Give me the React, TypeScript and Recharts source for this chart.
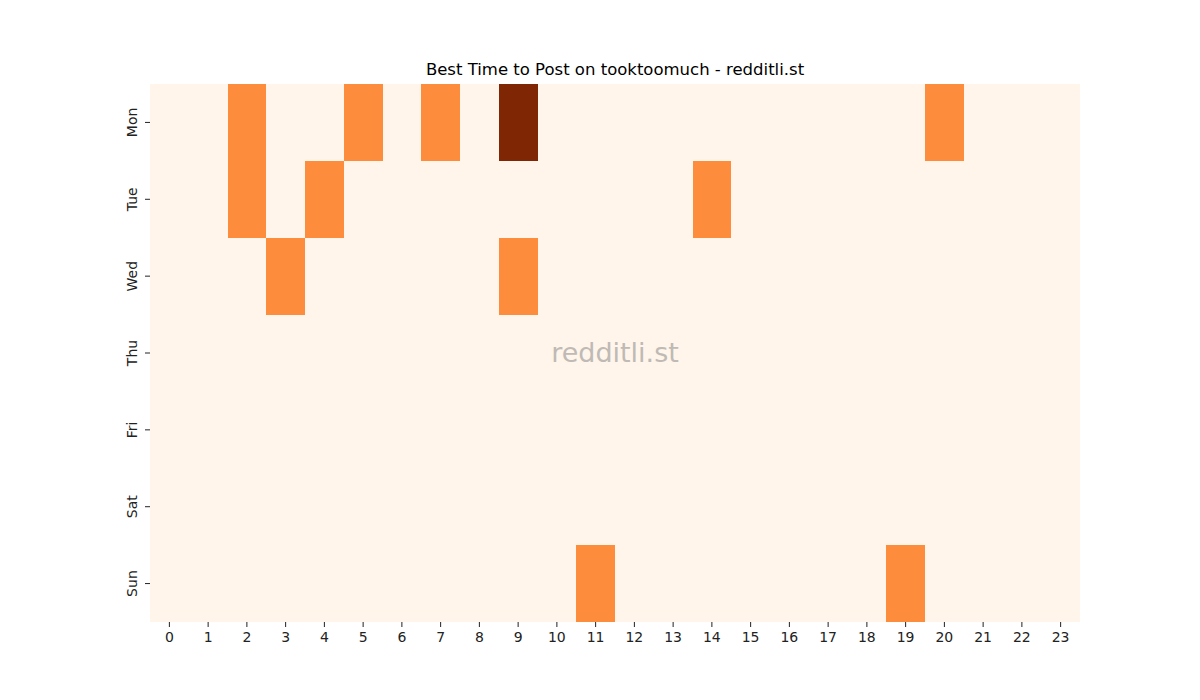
import React from 'react';
import { ScatterChart, Scatter, XAxis, YAxis } from 'recharts';

const days = ['Mon', 'Tue', 'Wed', 'Thu', 'Fri', 'Sat', 'Sun'];
const hours = [0, 1, 2, 3, 4, 5, 6, 7, 8, 9, 10, 11, 12, 13, 14, 15, 16, 17, 18, 19, 20, 21, 22, 23];

// post counts per day, one entry per hour
const mon = [0, 0, 1, 0, 0, 1, 0, 1, 0, 2, 0, 0, 0, 0, 0, 0, 0, 0, 0, 0, 1, 0, 0, 0];
const tue = [0, 0, 1, 0, 1, 0, 0, 0, 0, 0, 0, 0, 0, 0, 1, 0, 0, 0, 0, 0, 0, 0, 0, 0];
const wed = [0, 0, 0, 1, 0, 0, 0, 0, 0, 1, 0, 0, 0, 0, 0, 0, 0, 0, 0, 0, 0, 0, 0, 0];
const thu = [0, 0, 0, 0, 0, 0, 0, 0, 0, 0, 0, 0, 0, 0, 0, 0, 0, 0, 0, 0, 0, 0, 0, 0];
const fri = [0, 0, 0, 0, 0, 0, 0, 0, 0, 0, 0, 0, 0, 0, 0, 0, 0, 0, 0, 0, 0, 0, 0, 0];
const sat = [0, 0, 0, 0, 0, 0, 0, 0, 0, 0, 0, 0, 0, 0, 0, 0, 0, 0, 0, 0, 0, 0, 0, 0];
const sun = [0, 0, 0, 0, 0, 0, 0, 0, 0, 0, 0, 1, 0, 0, 0, 0, 0, 0, 0, 1, 0, 0, 0, 0];

const counts = [mon, tue, wed, thu, fri, sat, sun];

// Oranges colormap, low / mid / high
const colors = ['#fff5eb', '#fd8d3c', '#7f2704'];

const WIDTH = 1200;
const HEIGHT = 700;
const margin = { top: 84, right: 120, bottom: 48, left: 100 };
const Y_AXIS_W = 50;
const X_AXIS_H = 30;
const plotW = WIDTH - margin.left - margin.right - Y_AXIS_W;
const plotH = HEIGHT - margin.top - margin.bottom - X_AXIS_H;
const cellW = plotW / hours.length;
const cellH = plotH / days.length;

const cells = counts.flatMap((row, d) =>
  row.map((v, h) => ({ hour: hours[h], day: d, value: v }))
);

const font = '"DejaVu Sans", sans-serif';

const Cell = (props: any) => {
  const { cx, cy, payload } = props;
  if (cx == null || cy == null) return null;
  return (
    <rect
      x={cx - cellW / 2}
      y={cy - cellH / 2}
      width={cellW}
      height={cellH}
      fill={colors[payload.value]}
      shapeRendering="crispEdges"
    />
  );
};

const DayTick = (props: any) => {
  const { x, y, payload } = props;
  return (
    <g transform={`translate(${x - 9},${y})`}>
      <text
        transform="rotate(-90)"
        textAnchor="middle"
        dy="0.35em"
        fontSize={14}
        fontFamily={font}
        fill="#222"
      >
        {days[payload.value]}
      </text>
    </g>
  );
};

export default function App() {
  return (
    <div style={{ position: 'absolute', left: 0, top: 0, width: WIDTH, height: HEIGHT, background: '#fff' }}>
      <div
        style={{
          position: 'absolute',
          left: margin.left + Y_AXIS_W,
          width: plotW,
          top: 60,
          textAlign: 'center',
          fontFamily: font,
          fontSize: 16.5,
          color: '#000',
        }}
      >
        Best Time to Post on tooktoomuch - redditli.st
      </div>
      <ScatterChart width={WIDTH} height={HEIGHT} margin={margin}>
        <XAxis
          type="number"
          dataKey="hour"
          domain={[-0.5, 23.5]}
          ticks={hours}
          interval={0}
          height={X_AXIS_H}
          axisLine={false}
          tickSize={5}
          tickMargin={5}
          tickLine={{ stroke: '#222' }}
          tick={{ fontSize: 14, fontFamily: font, fill: '#222' }}
        />
        <YAxis
          type="number"
          dataKey="day"
          domain={[-0.5, 6.5]}
          reversed
          ticks={[0, 1, 2, 3, 4, 5, 6]}
          interval={0}
          width={Y_AXIS_W}
          axisLine={false}
          tickSize={5}
          tickMargin={4}
          tickLine={{ stroke: '#222' }}
          tick={<DayTick />}
        />
        <Scatter data={cells} shape={<Cell />} isAnimationActive={false} />
      </ScatterChart>
      <div
        style={{
          position: 'absolute',
          left: margin.left + Y_AXIS_W,
          width: plotW,
          top: 337,
          textAlign: 'center',
          fontFamily: font,
          fontSize: 27,
          color: '#808080',
          opacity: 0.5,
          pointerEvents: 'none',
        }}
      >
        redditli.st
      </div>
    </div>
  );
}
